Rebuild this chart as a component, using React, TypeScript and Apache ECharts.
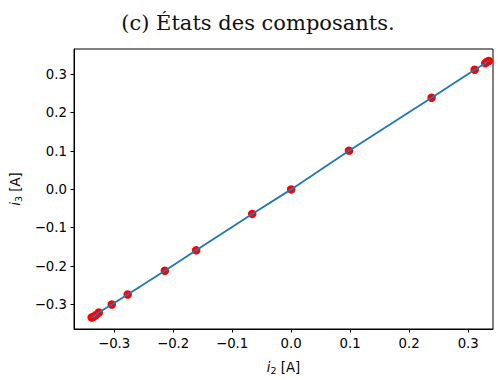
import React, { useEffect, useRef } from "react";
import * as echarts from "echarts";

const i2Values = [-0.338, -0.335, -0.331, -0.326, -0.304, -0.277, -0.214, -0.161, -0.066, 0.0, 0.098, 0.238, 0.311, 0.329, 0.332, 0.335];
const i3Values = [-0.334, -0.332, -0.328, -0.321, -0.300, -0.274, -0.212, -0.159, -0.064, 0.0, 0.101, 0.239, 0.312, 0.329, 0.333, 0.335];
const tickValues = [-0.3, -0.2, -0.1, 0.0, 0.1, 0.2, 0.3];
const titleText = "(c) États des composants.";

const fmt = (v: number) => {
  const s = Math.abs(v).toFixed(1);
  return v < -1e-9 ? "\u2212" + s : s;
};

export default function App() {
  const ref = useRef<HTMLDivElement>(null);
  useEffect(() => {
    if (!ref.current) return;
    const chart = echarts.init(ref.current, null, { renderer: "svg" });
    const pts = i2Values.map((x, k) => [x, i3Values[k]]);
    const labelStyle = { color: "#000", fontFamily: "DejaVu Sans", fontSize: 13.3 };
    const rich = {
      i: { fontFamily: "DejaVu Sans", fontStyle: "italic", fontSize: 13.3, color: "#000" },
      s: { fontFamily: "DejaVu Sans", fontSize: 9.5, color: "#000", verticalAlign: "bottom", padding: [6, 0, 0, 0] },
    };
    chart.setOption({
      animation: false,
      backgroundColor: "#fff",
      grid: { left: 74, right: 5, top: 49, bottom: 44, show: true, borderColor: "#000", borderWidth: 1, backgroundColor: "transparent" },
      graphic: [
        {
          type: "text",
          x: 258,
          y: 23,
          style: { text: titleText, font: "21px 'DejaVu Serif'", fill: "#111", textAlign: "center", textVerticalAlign: "middle" },
        },
      ],
      xAxis: {
        type: "value",
        min: -0.368,
        max: 0.342,
        splitLine: { show: false },
        axisLine: { show: true, onZero: false, lineStyle: { color: "#000", width: 1 } },
        axisTick: { show: true, length: 3.5, customValues: tickValues, lineStyle: { color: "#000" } },
        axisLabel: { ...labelStyle, margin: 8, customValues: tickValues, formatter: fmt },
        name: "{i|i}{s|2} [A]",
        nameLocation: "middle",
        nameGap: 30,
        nameTextStyle: { ...labelStyle, rich },
      },
      yAxis: {
        type: "value",
        min: -0.364,
        max: 0.366,
        splitLine: { show: false },
        axisLine: { show: true, onZero: false, lineStyle: { color: "#000", width: 1 } },
        axisTick: { show: true, length: 3.5, customValues: tickValues, lineStyle: { color: "#000" } },
        axisLabel: { ...labelStyle, margin: 7, customValues: tickValues, formatter: fmt },
        name: "{i|i}{s|3} [A]",
        nameLocation: "middle",
        nameGap: 46,
        nameTextStyle: { ...labelStyle, rich },
      },
      series: [
        {
          type: "scatter",
          data: pts,
          symbolSize: 8.5,
          itemStyle: { color: "#ff0000", opacity: 1 },
          z: 2,
        },
        {
          type: "line",
          data: pts,
          showSymbol: false,
          lineStyle: { color: "#1f77b4", width: 1.8 },
          z: 3,
        },
      ],
    });
    return () => chart.dispose();
  }, []);
  return <div ref={ref} style={{ width: 498, height: 380, position: "absolute", left: 0, top: 0 }} />;
}
